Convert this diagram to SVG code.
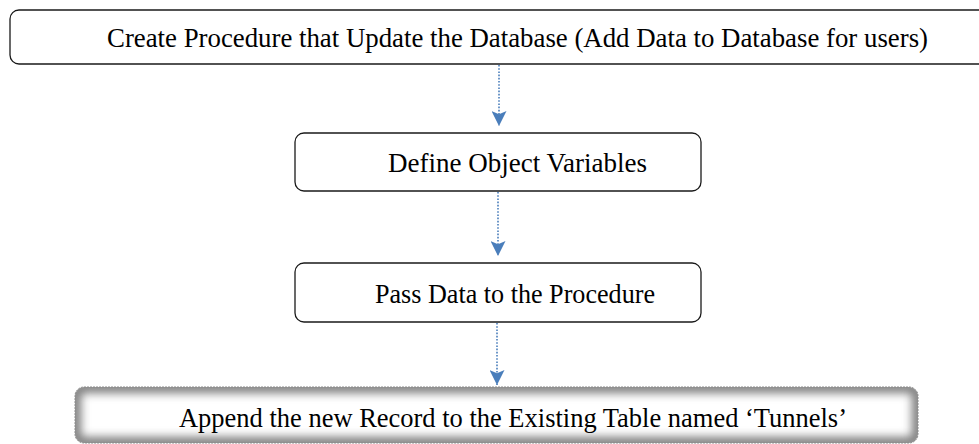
<svg xmlns="http://www.w3.org/2000/svg" width="979" height="444" viewBox="0 0 979 444">
<style>
.box{fill:#fff;stroke:#1a1a1a;stroke-width:1.3}
.lbl{font-family:"Liberation Serif","Times New Roman",serif;font-size:27px;fill:#000}
.conn{stroke:#4a7ebb;stroke-width:1.6;stroke-dasharray:1.6 1.6;fill:none}
</style>
<defs>
<marker id="ah" markerUnits="userSpaceOnUse" markerWidth="15" markerHeight="15" refX="14" refY="7" orient="auto" viewBox="0 0 14 14">
<path d="M0,0 L14,7 L0,14 L3,7 Z" fill="#4a7ebb"/>
</marker>
<clipPath id="c4"><rect x="75" y="387" width="843" height="56" rx="9"/></clipPath>
<filter id="soft" x="-5%" y="-50%" width="110%" height="200%"><feGaussianBlur stdDeviation="5"/></filter>
</defs>
<g id="connectors">
<path class="conn" d="M499,65 V126" marker-end="url(#ah)"/>
<path class="conn" d="M498,192 V256" marker-end="url(#ah)"/>
<path class="conn" d="M497,323 V385" marker-end="url(#ah)"/>
</g>
<g id="n1">
<rect class="box" x="10" y="10" width="990" height="54" rx="9"/>
<text class="lbl" x="107" y="47" textLength="821" lengthAdjust="spacingAndGlyphs">Create Procedure that Update the Database (Add Data to Database for users)</text>
</g>
<g id="n2">
<rect class="box" x="295" y="133" width="406" height="58" rx="9"/>
<text class="lbl" x="388" y="172" textLength="259" lengthAdjust="spacingAndGlyphs">Define Object Variables</text>
</g>
<g id="n3">
<rect class="box" x="295" y="263" width="406" height="59" rx="9"/>
<text class="lbl" x="375" y="303" textLength="280" lengthAdjust="spacingAndGlyphs">Pass Data to the Procedure</text>
</g>
<g id="n4">
<rect x="75" y="387" width="843" height="56" rx="9" fill="#fff"/>
<g clip-path="url(#c4)">
<rect x="75" y="387" width="843" height="56" rx="9" fill="none" stroke="#7a7a7a" stroke-width="12" filter="url(#soft)"/>
</g>
<rect x="75" y="387" width="843" height="56" rx="9" fill="none" stroke="#8a8a8a" stroke-width="1" stroke-dasharray="2 1"/>
<text class="lbl" x="179" y="427" textLength="668" lengthAdjust="spacingAndGlyphs">Append the new Record to the Existing Table named ‘Tunnels’</text>
</g>
</svg>
